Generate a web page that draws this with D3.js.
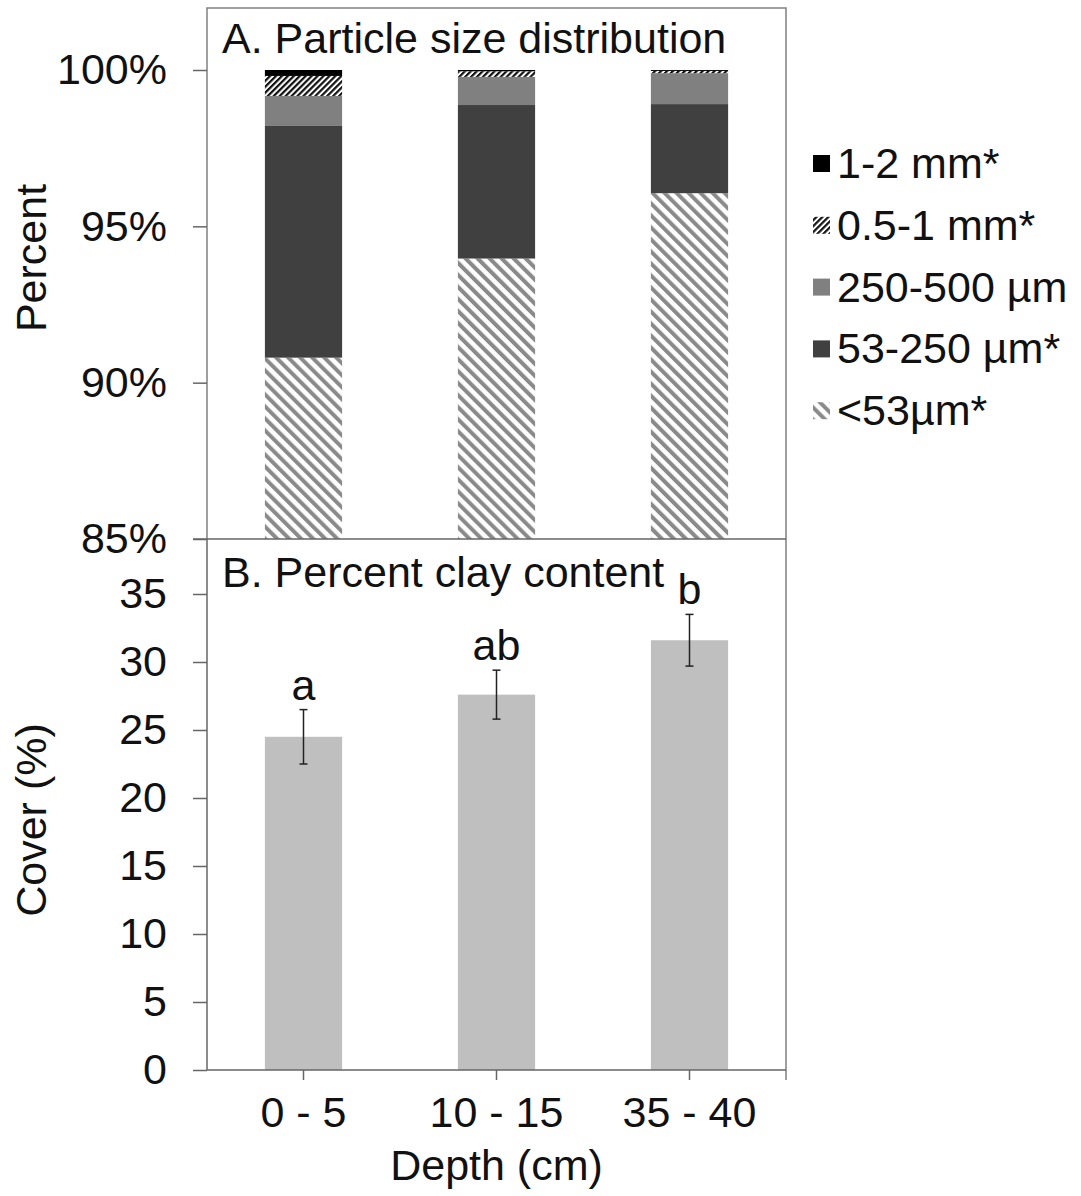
<!DOCTYPE html>
<html>
<head>
<meta charset="utf-8">
<script src="https://cdn.jsdelivr.net/npm/d3@7"></script>
<style>
  body { margin: 0; background: #fff; }
  text { font-family: "Liberation Sans", Arial, sans-serif; fill: #111; }
</style>
</head>
<body>
<svg id="chart" width="1081" height="1196"></svg>
<script>
// depth classes (shared x)
const depths = ['0 - 5', '10 - 15', '35 - 40'];

// panel A - particle size classes, bottom to top
const sizeClasses = ['<53µm*', '53-250 µm*', '250-500 µm', '0.5-1 mm*', '1-2 mm*'];
const lt53 = [90.80, 93.97, 96.06];
const s53to250 = [7.41, 4.91, 2.85];
const s250to500 = [0.96, 0.90, 0.99];
const s05to1 = [0.64, 0.18, 0.07];
const s1to2 = [0.19, 0.04, 0.03];
const pctTicks = [85, 90, 95, 100];

// panel B - clay
const clay = [24.5, 27.6, 31.6];
const clayErr = [2.0, 1.8, 1.9];
const clayLetters = ['a', 'ab', 'b'];
const clayTicks = [0, 5, 10, 15, 20, 25, 30, 35];

const svg = d3.select('#chart');
const left = 207, right = 786;
const frameCol = '#808080', axisCol = '#666';
const fs = 43;

const x = d3.scaleBand().domain(depths).range([left, right]).paddingInner(0.6).paddingOuter(0.3);
const yA = d3.scaleLinear().domain([85, 100]).range([539, 70]);
const yB = d3.scaleLinear().domain([0, 35]).range([1070, 594]);

// patterns
const defs = svg.append('defs');
const p1 = defs.append('pattern').attr('id', 'fine').attr('patternUnits', 'userSpaceOnUse')
  .attr('width', 8.5).attr('height', 8.5).attr('patternTransform', 'rotate(-45)');
p1.append('rect').attr('width', 8.5).attr('height', 8.5).attr('fill', '#fff');
p1.append('rect').attr('width', 4).attr('height', 8.5).attr('fill', '#8a8a8a');
const p2 = defs.append('pattern').attr('id', 'coarse').attr('patternUnits', 'userSpaceOnUse')
  .attr('width', 4.2).attr('height', 4.2).attr('patternTransform', 'rotate(45)');
p2.append('rect').attr('width', 4.2).attr('height', 4.2).attr('fill', '#fff');
p2.append('rect').attr('width', 2.2).attr('height', 4.2).attr('fill', '#111');

const fills = ['url(#fine)', '#404040', '#808080', 'url(#coarse)', '#000'];

// stack the size classes
const rows = depths.map((d, i) => ({
  depth: d,
  '<53µm*': lt53[i], '53-250 µm*': s53to250[i], '250-500 µm': s250to500[i],
  '0.5-1 mm*': s05to1[i], '1-2 mm*': s1to2[i]
}));
const stacked = d3.stack().keys(sizeClasses)(rows);

const gA = svg.append('g');
gA.selectAll('g.layer').data(stacked).enter().append('g')
  .attr('fill', (d, i) => fills[i])
  .selectAll('rect').data(d => d).enter().append('rect')
  .attr('x', d => x(d.data.depth))
  .attr('width', x.bandwidth())
  .attr('y', d => yA(d[1]))
  .attr('height', d => yA(Math.max(d[0], 85)) - yA(d[1]));

// frame of panel A
svg.append('path').attr('fill', 'none').attr('stroke', frameCol).attr('stroke-width', 1.5)
  .attr('d', `M${left},${yA(85)}V8H${right}V1080`);

const axA = svg.append('g').attr('transform', `translate(${left},0)`)
  .call(d3.axisLeft(yA).tickValues(pctTicks).tickFormat(d => d + '%').tickSize(14).tickPadding(26));
axA.select('.domain').remove();
axA.selectAll('line').attr('stroke', axisCol).attr('stroke-width', 1.5);
axA.selectAll('text').attr('font-size', fs).attr('font-family', null);

svg.append('line').attr('x1', left - 14).attr('x2', right).attr('y1', yA(85)).attr('y2', yA(85))
  .attr('stroke', axisCol).attr('stroke-width', 1.5);

svg.append('text').attr('x', 222).attr('y', 53).attr('font-size', fs).text('A. Particle size distribution');
svg.append('text').attr('transform', 'translate(46,258) rotate(-90)').attr('text-anchor', 'middle')
  .attr('font-size', fs).text('Percent');

// legend (top item first)
const legItems = sizeClasses.map((c, i) => ({ c, f: fills[i] })).reverse();
const leg = svg.append('g').selectAll('g').data(legItems).enter().append('g')
  .attr('transform', (d, i) => `translate(813,${163 + i * 61.8})`);
leg.append('rect').attr('x', 0).attr('y', -8).attr('width', 17).attr('height', 17).attr('fill', d => d.f);
leg.append('text').attr('x', 24).attr('y', 15).attr('font-size', fs).text(d => d.c);

// panel B
svg.selectAll('rect.clay').data(clay).enter().append('rect').attr('class', 'clay')
  .attr('x', (d, i) => x(depths[i])).attr('width', x.bandwidth())
  .attr('y', d => yB(d)).attr('height', d => yB(0) - yB(d)).attr('fill', '#bfbfbf');

const eb = svg.append('g').attr('stroke', '#222').attr('stroke-width', 1.5);
clay.forEach((v, i) => {
  const cx = x(depths[i]) + x.bandwidth() / 2;
  const hi = yB(v + clayErr[i]), lo = yB(v - clayErr[i]);
  eb.append('line').attr('x1', cx).attr('x2', cx).attr('y1', hi).attr('y2', lo);
  eb.append('line').attr('x1', cx - 4).attr('x2', cx + 4).attr('y1', hi).attr('y2', hi);
  eb.append('line').attr('x1', cx - 4).attr('x2', cx + 4).attr('y1', lo).attr('y2', lo);
  svg.append('text').attr('x', cx).attr('y', hi - 10).attr('text-anchor', 'middle')
    .attr('font-size', fs).text(clayLetters[i]);
});

const axB = svg.append('g').attr('transform', `translate(${left},0)`)
  .call(d3.axisLeft(yB).tickValues(clayTicks).tickSize(14).tickPadding(26));
axB.select('.domain').attr('d', `M0,${yA(85)}V${yB(0)}`).attr('stroke', axisCol).attr('stroke-width', 1.5);
axB.selectAll('line').attr('stroke', axisCol).attr('stroke-width', 1.5);
axB.selectAll('text').attr('font-size', fs).attr('font-family', null);

const axX = svg.append('g').attr('transform', `translate(0,${yB(0)})`)
  .call(d3.axisBottom(x).tickSize(10).tickPadding(16));
axX.select('.domain').attr('d', `M${left},0H${right}`).attr('stroke', axisCol).attr('stroke-width', 1.5);
axX.selectAll('line').attr('stroke', axisCol).attr('stroke-width', 1.5);
axX.selectAll('text').attr('font-size', fs).attr('font-family', null);

svg.append('text').attr('x', 222).attr('y', 587).attr('font-size', fs).text('B. Percent clay content');
svg.append('text').attr('transform', 'translate(46,820) rotate(-90)').attr('text-anchor', 'middle')
  .attr('font-size', fs).text('Cover (%)');
svg.append('text').attr('x', (left + right) / 2).attr('y', 1180).attr('text-anchor', 'middle')
  .attr('font-size', fs).text('Depth (cm)');
</script>
</body>
</html>
